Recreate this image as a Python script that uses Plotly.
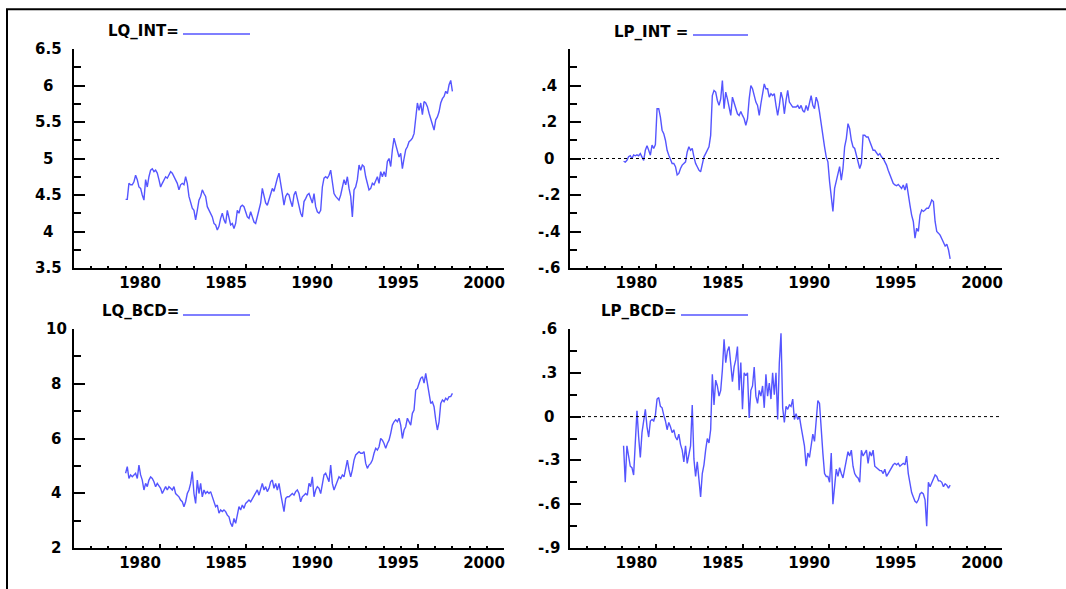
import numpy as np
import plotly.graph_objects as go

# ---------------- data ----------------
LQ_INT = [4.44,4.44,4.66,4.64,4.64,4.68,4.77,4.71,4.61,4.59,
          4.50,4.43,4.71,4.61,4.75,4.84,4.86,4.82,4.84,4.80,
          4.71,4.61,4.66,4.71,4.75,4.73,4.77,4.82,4.80,4.75,
          4.71,4.66,4.57,4.64,4.66,4.64,4.75,4.66,4.48,4.39,
          4.32,4.29,4.16,4.29,4.43,4.48,4.57,4.52,4.48,4.34,
          4.29,4.25,4.20,4.11,4.09,4.02,4.07,4.18,4.25,4.16,
          4.11,4.29,4.16,4.09,4.11,4.04,4.11,4.29,4.25,4.34,
          4.36,4.34,4.27,4.20,4.18,4.27,4.20,4.13,4.11,4.20,
          4.29,4.39,4.59,4.48,4.39,4.36,4.43,4.50,4.59,4.55,
          4.66,4.73,4.80,4.68,4.52,4.36,4.48,4.52,4.50,4.41,
          4.34,4.50,4.55,4.45,4.34,4.25,4.20,4.41,4.45,4.50,
          4.52,4.45,4.39,4.52,4.34,4.27,4.25,4.29,4.61,4.73,
          4.75,4.73,4.77,4.84,4.64,4.52,4.48,4.45,4.43,4.50,
          4.61,4.71,4.64,4.75,4.59,4.48,4.20,4.57,4.61,4.71,
          4.91,4.84,4.91,4.89,4.75,4.64,4.57,4.59,4.66,4.64,
          4.71,4.75,4.66,4.82,4.75,4.82,4.75,4.96,5.00,4.89,
          5.12,5.28,5.19,5.09,5.02,5.07,4.86,5.00,5.12,5.16,
          5.23,5.25,5.28,5.34,5.55,5.76,5.66,5.76,5.60,5.78,
          5.76,5.71,5.62,5.55,5.48,5.39,5.53,5.57,5.64,5.76,
          5.82,5.85,5.92,5.89,6.01,6.07,5.92]

LP_INT = [-0.015,-0.02,-0.01,0.01,0.015,0.0,0.02,0.015,0.02,0.015,
          0.027,0.004,-0.01,0.045,0.07,0.045,0.018,0.073,0.055,0.076,
          0.273,0.273,0.227,0.155,0.136,0.10,0.045,0.018,-0.01,-0.027,
          -0.027,-0.045,-0.09,-0.082,-0.055,-0.036,-0.027,-0.018,0.036,0.064,
          0.045,0.055,0.009,-0.027,-0.045,-0.064,-0.073,-0.027,0.009,0.027,
          0.045,0.064,0.127,0.345,0.373,0.364,0.318,0.291,0.327,0.427,
          0.273,0.364,0.327,0.273,0.236,0.336,0.309,0.273,0.245,0.236,
          0.258,0.236,0.218,0.182,0.218,0.327,0.40,0.382,0.345,0.309,
          0.291,0.236,0.30,0.345,0.409,0.382,0.382,0.336,0.355,0.345,
          0.355,0.291,0.236,0.291,0.364,0.327,0.245,0.318,0.373,0.309,
          0.291,0.282,0.282,0.282,0.291,0.273,0.291,0.263,0.254,0.291,
          0.263,0.309,0.345,0.291,0.273,0.336,0.309,0.254,0.182,0.127,
          0.064,0.009,-0.018,-0.127,-0.20,-0.29,-0.164,-0.127,-0.082,-0.045,
          -0.118,-0.055,0.064,0.109,0.191,0.164,0.10,0.064,0.055,0.018,
          -0.027,-0.055,-0.027,0.127,0.127,0.118,0.118,0.091,0.073,0.045,
          0.045,0.027,0.018,0.027,0.009,0.0,-0.018,-0.036,-0.064,-0.091,
          -0.118,-0.136,-0.145,-0.149,-0.142,-0.155,-0.164,-0.145,-0.173,-0.136,
          -0.209,-0.255,-0.31,-0.345,-0.436,-0.382,-0.40,-0.31,-0.282,-0.29,
          -0.282,-0.273,-0.273,-0.255,-0.227,-0.236,-0.345,-0.40,-0.409,
          -0.42,-0.44,-0.46,-0.48,-0.47,-0.50,-0.55]

LQ_BCD = [4.73,4.97,4.54,4.67,4.60,4.67,4.73,4.54,5.03,4.67,
          4.48,4.12,4.36,4.24,4.48,4.60,4.54,4.42,4.24,4.36,
          4.24,4.18,3.99,4.12,4.24,4.12,4.24,4.18,4.12,4.24,
          3.99,3.93,3.87,3.75,3.69,3.51,3.69,3.99,4.12,4.36,
          4.79,3.99,3.63,4.48,3.99,4.36,3.87,4.12,3.99,4.06,
          3.99,4.06,3.87,3.63,3.51,3.57,3.27,3.39,3.33,3.39,
          3.33,3.20,3.14,2.90,2.78,3.08,2.90,3.20,3.51,3.39,
          3.57,3.45,3.63,3.69,3.75,3.69,3.81,3.93,3.99,4.12,
          3.93,4.18,4.36,4.12,4.24,4.06,4.18,4.42,4.48,4.18,
          4.36,4.12,4.36,3.99,3.63,3.33,3.81,3.87,3.87,3.93,
          3.99,3.93,4.06,4.12,3.99,3.69,3.87,3.93,3.99,3.93,
          4.36,4.24,4.60,3.87,4.12,4.24,4.18,3.99,4.36,4.67,
          4.73,4.60,4.42,5.03,4.36,4.12,4.30,4.48,4.60,4.54,
          4.67,4.60,4.85,5.21,4.85,4.60,4.85,5.21,5.40,5.46,
          5.52,5.46,5.46,5.52,5.09,4.91,5.03,5.09,5.21,5.46,
          5.64,5.58,5.70,6.00,5.94,5.82,5.64,5.82,5.94,6.19,
          6.49,6.61,6.68,6.61,6.74,6.49,6.00,6.31,6.43,6.74,
          6.61,6.49,6.92,7.04,7.77,7.83,8.02,8.20,8.26,8.02,
          8.38,8.02,7.65,7.28,7.34,7.16,6.68,6.31,6.61,7.28,
          7.41,7.34,7.47,7.41,7.53,7.53,7.65]

LP_BCD = [-0.20,-0.45,-0.20,-0.27,-0.34,-0.35,-0.40,-0.18,0.04,-0.14,
          -0.28,-0.11,-0.02,0.05,-0.07,-0.14,-0.03,-0.02,-0.03,0.01,
          0.12,0.13,0.07,0.06,0.01,-0.03,-0.09,-0.04,-0.07,-0.11,
          -0.09,-0.14,-0.16,-0.12,-0.19,-0.23,-0.31,-0.20,-0.32,-0.25,
          -0.20,0.08,-0.29,-0.41,-0.31,-0.43,-0.55,-0.39,-0.33,-0.23,
          -0.15,-0.18,-0.09,0.29,0.08,0.25,0.21,0.14,0.18,0.32,
          0.53,0.37,0.45,0.48,0.38,0.24,0.34,0.39,0.48,0.18,
          0.37,0.05,0.30,0.28,0.30,-0.01,0.18,0.21,0.34,0.14,
          0.09,0.18,0.14,0.21,0.06,0.29,0.14,0.23,0.12,0.30,
          0.15,0.30,-0.02,0.37,0.57,0.06,-0.04,0.07,0.05,0.08,
          0.07,0.12,-0.02,0.02,-0.02,0.00,-0.07,-0.15,-0.20,-0.34,
          -0.25,-0.28,-0.20,-0.12,-0.17,-0.04,0.11,0.09,-0.11,-0.25,
          -0.39,-0.41,-0.41,-0.45,-0.25,-0.60,-0.48,-0.36,-0.41,-0.35,
          -0.39,-0.42,-0.36,-0.29,-0.24,-0.27,-0.23,-0.34,-0.39,-0.41,
          -0.42,-0.45,-0.23,-0.27,-0.25,-0.23,-0.32,-0.24,-0.27,-0.23,
          -0.34,-0.35,-0.36,-0.37,-0.37,-0.39,-0.36,-0.41,-0.39,-0.37,
          -0.34,-0.33,-0.32,-0.33,-0.32,-0.34,-0.33,-0.32,-0.33,-0.27,
          -0.39,-0.45,-0.52,-0.55,-0.58,-0.59,-0.57,-0.53,-0.52,-0.53,
          -0.57,-0.75,-0.45,-0.48,-0.45,-0.42,-0.40,-0.41,-0.44,
          -0.44,-0.45,-0.48,-0.46,-0.47,-0.49,-0.47]

SERIES_START_LEFT = 1978.0
SERIES_START_RIGHT = 1978.1
SERIES_END = 1997.0

YEAR_TICKS = [1980, 1985, 1990, 1995, 2000]
YEAR_LABELS = ["1980", "1985", "1990", "1995", "2000"]

TITLES = ["LQ_INT=", "LP_INT =", "LQ_BCD=", "LP_BCD="]

Y1_VALS = [6.5, 6.0, 5.5, 5.0, 4.5, 4.0, 3.5]
Y1_LABELS = ["6.5", "6", "5.5", "5", "4.5", "4", "3.5"]
Y2_VALS = [0.4, 0.2, 0.0, -0.2, -0.4, -0.6]
Y2_LABELS = [".4", ".2", "0", "-.2", "-.4", "-.6"]
Y3_VALS = [10, 8, 6, 4, 2]
Y3_LABELS = ["10", "8", "6", "4", "2"]
Y4_VALS = [0.6, 0.3, 0.0, -0.3, -0.6, -0.9]
Y4_LABELS = [".6", ".3", "0", "-.3", "-.6", "-.9"]

# ---------------- figure ----------------
W, H = 1066, 589
BLUE = "#5555FF"
FONT = "DejaVu Sans"

def px(x):
    return x / W

def py(y):
    return 1 - y / H

fig = go.Figure()

panels = [
    (LQ_INT, SERIES_START_LEFT, "x", "y"),
    (LP_INT, SERIES_START_RIGHT, "x2", "y2"),
    (LQ_BCD, SERIES_START_LEFT, "x3", "y3"),
    (LP_BCD, SERIES_START_RIGHT, "x4", "y4"),
]
for vals, start, xa, ya in panels:
    t = np.linspace(start, SERIES_END, len(vals))
    fig.add_trace(go.Scatter(x=t, y=vals, mode="lines", xaxis=xa, yaxis=ya,
                             line=dict(color=BLUE, width=1.4), showlegend=False,
                             hoverinfo="skip"))

tickfont = dict(family=FONT, size=15, color="black", weight="bold")

def xaxis(domain):
    return dict(domain=domain, range=[1975, 2000], tickmode="array",
                tickvals=YEAR_TICKS, ticktext=YEAR_LABELS,
                ticks="inside", ticklen=4, tickwidth=1.5, tickcolor="black",
                showline=True, linecolor="black", linewidth=2,
                showgrid=False, zeroline=False, tickfont=tickfont,
                ticklabelshift=-20,
                minor=dict(tickvals=list(range(1976, 2000)), ticks="inside",
                           ticklen=2, tickwidth=1.5, tickcolor="black", showgrid=False),
                fixedrange=True)

def yaxis(domain, rng, majors, minors):
    return dict(domain=domain, range=rng, tickmode="array", tickvals=majors,
                showticklabels=False, ticks="inside", ticklen=11, tickwidth=1.5,
                tickcolor="black", showline=True, linecolor="black", linewidth=2,
                showgrid=False, zeroline=False,
                minor=dict(tickvals=minors, ticks="inside", ticklen=7,
                           tickwidth=1.5, tickcolor="black", showgrid=False),
                fixedrange=True)

XL = [px(74), px(504)]
XR = [px(570), px(1002)]
YT = [py(268), py(49)]
YB = [py(548), py(329)]

fig.update_layout(
    width=W, height=H, margin=dict(l=0, r=0, t=0, b=0),
    paper_bgcolor="white", plot_bgcolor="white", showlegend=False,
    xaxis=xaxis(XL), yaxis=yaxis(YT, [3.5, 6.5], Y1_VALS, [6.25, 5.75, 5.25, 4.75, 4.25, 3.75]),
    xaxis2=xaxis(XR), yaxis2=yaxis(YT, [-0.6, 0.6], Y2_VALS, [0.5, 0.3, 0.1, -0.1, -0.3, -0.5]),
    xaxis3=xaxis(XL), yaxis3=yaxis(YB, [2, 10], Y3_VALS, [9, 7, 5, 3]),
    xaxis4=xaxis(XR), yaxis4=yaxis(YB, [-0.9, 0.6], Y4_VALS, [0.45, 0.15, -0.15, -0.45, -0.75]),
)
fig.update_layout(xaxis3=dict(anchor="y3"), yaxis3=dict(anchor="x3"),
                  xaxis2=dict(anchor="y2"), yaxis2=dict(anchor="x2"),
                  xaxis4=dict(anchor="y4"), yaxis4=dict(anchor="x4"))

annotations = []
# y tick labels (centered in the label column)
for vals, labels, yref, xc in [(Y1_VALS, Y1_LABELS, "y", 48),
                               (Y2_VALS, Y2_LABELS, "y2", 549),
                               (Y3_VALS, Y3_LABELS, "y3", 56),
                               (Y4_VALS, Y4_LABELS, "y4", 549)]:
    for v, lab in zip(vals, labels):
        annotations.append(dict(x=px(xc), xref="paper", y=v, yref=yref, text=lab,
                                showarrow=False, xanchor="center", yanchor="middle",
                                font=tickfont))

# panel titles with a legend line after them
title_specs = [(TITLES[0], 181, 183, 250, 31, 34),
               (TITLES[1], 690, 693, 748, 32, 35),
               (TITLES[2], 181, 183, 250, 311, 315),
               (TITLES[3], 679, 681, 748, 311, 315)]
shapes = []
for text, tx, lx0, lx1, ty, ly in title_specs:
    annotations.append(dict(x=px(tx), xref="paper", y=py(ty), yref="paper", text=text,
                            showarrow=False, xanchor="right", yanchor="middle",
                            font=tickfont))
    shapes.append(dict(type="line", xref="paper", yref="paper", x0=px(lx0), x1=px(lx1),
                       y0=py(ly), y1=py(ly), line=dict(color=BLUE, width=1.5)))

# zero reference lines (dotted)
for xr, yr in [("x2", "y2"), ("x4", "y4")]:
    shapes.append(dict(type="line", xref=xr, yref=yr, x0=1975, x1=2000, y0=0, y1=0,
                       line=dict(color="black", width=1, dash="dot")))

# outer frame (top and left edges)
shapes.append(dict(type="line", xref="paper", yref="paper", x0=px(6), x1=1,
                   y0=py(9.3), y1=py(9.3), line=dict(color="black", width=2)))
shapes.append(dict(type="line", xref="paper", yref="paper", x0=px(7), x1=px(7),
                   y0=0, y1=py(9.3), line=dict(color="black", width=2)))

fig.update_layout(annotations=annotations, shapes=shapes)

fig.write_html("out.html")
